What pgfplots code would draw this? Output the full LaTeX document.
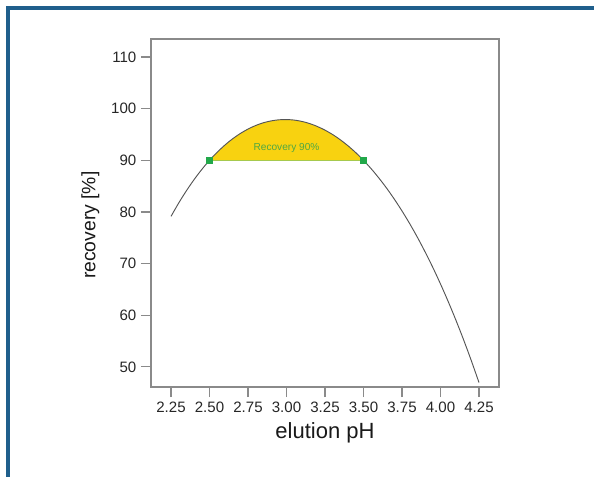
\documentclass[border=0pt]{standalone}
\usepackage{pgfplots}
\pgfplotsset{compat=1.18}
\usepackage{pgfplotstable}
\usepackage{fontspec}
\setmainfont{Liberation Sans}

\definecolor{frameblue}{HTML}{1F5F8C}
\definecolor{axisgray}{HTML}{8A8A8A}
\definecolor{curvegray}{HTML}{555555}
\definecolor{recyellow}{HTML}{F8D210}
\definecolor{recgreen}{HTML}{22A84A}
\definecolor{textgreen}{HTML}{4FA843}
\definecolor{limitline}{HTML}{A6C94E}

% recovery as a function of the elution pH
\pgfplotstableread{
x     y
2.25  79.15
2.30  81.74
2.35  84.11
2.40  86.28
2.45  88.24
2.50  90.00
2.55  91.57
2.60  92.96
2.65  94.17
2.70  95.20
2.75  96.06
2.80  96.75
2.85  97.28
2.90  97.64
2.95  97.85
3.00  97.90
3.05  97.80
3.10  97.54
3.15  97.13
3.20  96.56
3.25  95.85
3.30  94.99
3.35  93.97
3.40  92.80
3.45  91.48
3.50  90.00
3.55  88.37
3.60  86.57
3.65  84.62
3.70  82.49
3.75  80.20
3.80  77.74
3.85  75.10
3.90  72.27
3.95  69.27
4.00  66.06
4.05  62.66
4.10  59.06
4.15  55.25
4.20  51.22
4.25  46.96
}\recovery

% pH values that give 90 % recovery
\pgfplotstableread{
x     y
2.50  90
3.50  90
}\limits

\begin{document}
\begin{tikzpicture}
\useasboundingbox (0pt,0pt) rectangle (445.5pt,357pt);
% outer frame
\draw[frameblue, line width=2.4pt] (6pt,-10pt) -- (6pt,351pt) -- (460pt,351pt);
\begin{axis}[
  at={(113.25pt,66.75pt)}, anchor=south west,
  scale only axis, width=261pt, height=261pt,
  xmin=2.12, xmax=4.38, ymin=46.1, ymax=113.5,
  xtick={2.25,2.5,...,4.25},
  ytick={50,60,...,110},
  xticklabel style={/pgf/number format/.cd, fixed, fixed zerofill, precision=2},
  /pgf/number format/assume math mode=true,
  tick label style={font=\fontsize{11.3}{13}\selectfont, text=black!85},
  tick align=outside, tick pos=left,
  major tick length=7.5pt,
  axis line style={axisgray, line width=0.9pt},
  every tick/.style={axisgray, line width=0.9pt},
  xlabel={elution pH}, ylabel={recovery [\%]},
  xlabel style={font=\fontsize{16.5}{19}\selectfont, text=black!90, yshift=-1pt},
  ylabel style={font=\fontsize{14.5}{17}\selectfont, text=black!90,
    at={(ticklabel cs:0.465)}, yshift=2pt},
  clip=false,
]
\addplot[fill=recyellow, draw=none, restrict x to domain=2.49:3.51]
  table[x=x,y=y] {\recovery} -- cycle;
\addplot[limitline, line width=1pt] table[x=x,y=y] {\limits};
\addplot[curvegray, line width=0.7pt, smooth] table[x=x,y=y] {\recovery};
\addplot[only marks, mark=square*, mark size=2.2pt, recgreen] table[x=x,y=y] {\limits};
\node[textgreen, font=\fontsize{7.6}{9}\selectfont] at (axis cs:3.0,92.45) {Recovery 90\%};
\end{axis}
\end{tikzpicture}
\end{document}
